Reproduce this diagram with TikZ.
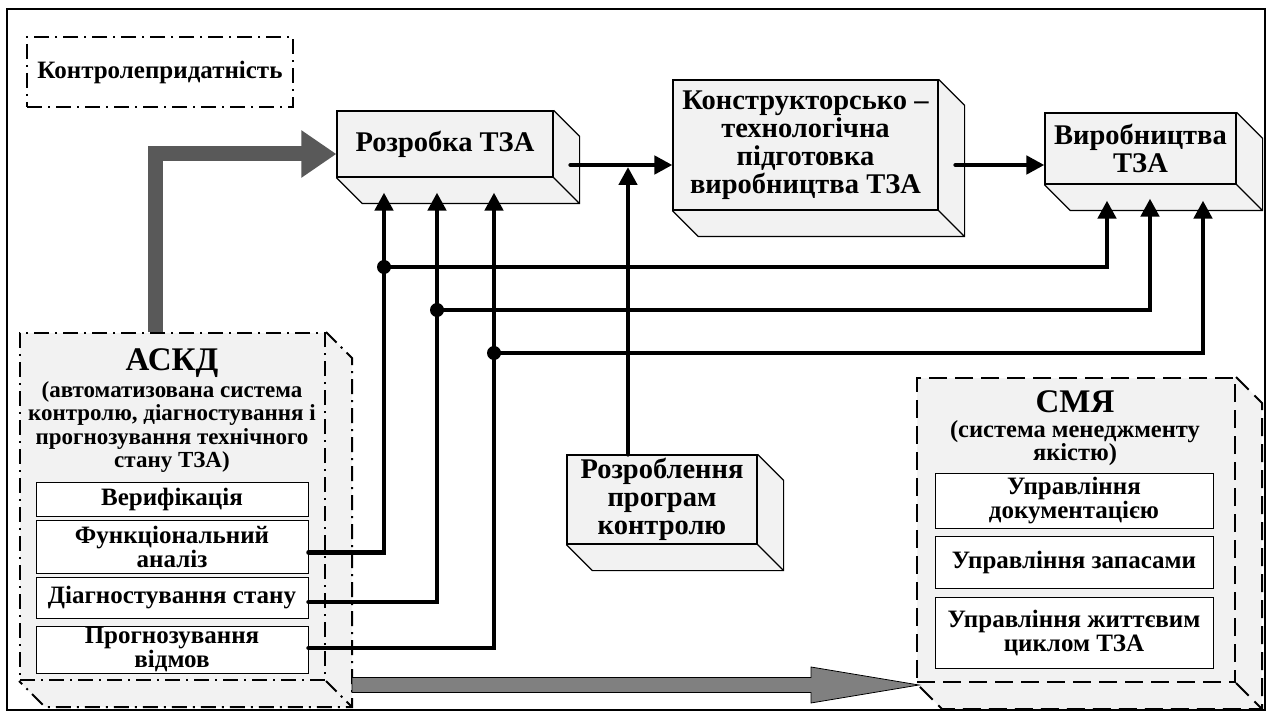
\documentclass[tikz,border=0pt]{standalone}
\usepackage{fontspec}
\setmainfont{Liberation Serif}
\usetikzlibrary{arrows.meta,calc,backgrounds}
\definecolor{boxfill}{HTML}{F2F2F2}
\definecolor{darkgrayarrow}{HTML}{595959}
\definecolor{midgrayarrow}{HTML}{808080}
\newcommand\depthfaces[2]{%
  \fill[boxfill] (#1.north east) -- ([shift={(26,26)}]#1.north east) -- ([shift={(26,26)}]#1.south east) -- ([shift={(26,26)}]#1.south west) -- (#1.south west) -- cycle;
  \draw[#2] (#1.north east) -- ([shift={(26,26)}]#1.north east) -- ([shift={(26,26)}]#1.south east) -- ([shift={(26,26)}]#1.south west) -- (#1.south west) (#1.south east) -- ([shift={(26,26)}]#1.south east);
}
\begin{document}
\begin{tikzpicture}[x=1pt,y=-1pt,
  solidface/.style={draw=black,line width=1.2pt},
  frontbox/.style={draw=black,line width=1.2pt,fill=boxfill,inner sep=0pt,align=center,font=\fontsize{28.5}{28}\selectfont\bfseries},
  sysbox/.style={fill=boxfill,inner sep=0pt},
  dashdotline/.style={draw=black,line width=2pt,dash pattern=on 15pt off 6pt on 2pt off 6pt},
  dashline/.style={draw=black,line width=2pt,dash pattern=on 18pt off 8pt},
  innerbox/.style={draw=black,line width=1pt,fill=white,inner sep=0pt,align=center,font=\fontsize{25}{24}\selectfont\bfseries},
  conn/.style={line width=4.5pt,line cap=round,-{Triangle[length=18pt,width=18pt]}},
  dotnode/.style={circle,fill=black,inner sep=0pt,minimum size=14pt},
  grayarrow/.style={draw=darkgrayarrow,line width=15pt,line join=miter,-{Triangle[length=35pt,width=45pt]}},
  bigarrow/.style={fill=midgrayarrow,draw=black,line width=0.8pt},
  titletext/.style={font=\fontsize{33}{35}\selectfont\bfseries},
  subtext/.style={align=center,font=\fontsize{23}{23.3}\selectfont\bfseries}
]
\useasboundingbox (0,0) rectangle (1269,711);
\draw[line width=1.8pt] (7,9) rectangle (1265,710);

% boxes
\node[fill=white,dashdotline,inner sep=0pt,minimum width=266pt,minimum height=70pt,font=\fontsize{25}{27}\selectfont\bfseries] (kp) at (160,72) {Контролепридатність};
\node[frontbox,minimum width=216pt,minimum height=66pt] (rozr) at (445,144) {Розробка ТЗА};
\node[frontbox,minimum width=265pt,minimum height=130pt] (ktp) at (805.5,145) {Конструкторсько –\\технологічна\\підготовка\\виробництва ТЗА};
\node[frontbox,minimum width=191pt,minimum height=71pt] (vyr) at (1140.5,148.5) {Виробництва\\ТЗА};
\node[frontbox,minimum width=190pt,minimum height=89pt] (rpk) at (662,499.5) {Розроблення\\програм\\контролю};

\node[sysbox,dashdotline,minimum width=305pt,minimum height=347pt] (askd) at (172.5,506.5) {};
\node[sysbox,dashline,minimum width=318pt,minimum height=304pt] (smya) at (1076,530) {};

\begin{scope}[on background layer]
  \fill[white] (0,0) rectangle (1269,711);
  \depthfaces{rozr}{solidface}
  \depthfaces{ktp}{solidface}
  \depthfaces{vyr}{solidface}
  \depthfaces{rpk}{solidface}
  \depthfaces{askd}{dashdotline}
  \depthfaces{smya}{dashline}
\end{scope}

\node[titletext] (askdt) at (172,363) {АСКД};
\node[subtext] (askds) at (172,427) {(автоматизована система\\контролю, діагностування і\\прогнозування технічного\\стану ТЗА)};
\node[innerbox,minimum width=272pt,minimum height=34pt] (ver) at (172,499) {Верифікація};
\node[innerbox,minimum width=272pt,minimum height=53pt] (fa) at (172,546.5) {Функціональний\\аналіз};
\node[innerbox,minimum width=272pt,minimum height=41pt] (diag) at (172,597.5) {Діагностування стану};
\node[innerbox,minimum width=272pt,minimum height=47pt] (prog) at (172,649.5) {Прогнозування\\відмов};

\node[titletext] (smyat) at (1075,402) {СМЯ};
\node[subtext,font=\fontsize{24.5}{23}\selectfont\bfseries] (smyas) at (1075,443.5) {(система менеджменту\\якістю)};
\node[innerbox,minimum width=278pt,minimum height=55pt] (ud) at (1074,500.5) {Управління\\документацією};
\node[innerbox,minimum width=278pt,minimum height=52pt] (uz) at (1074,562) {Управління запасами};
\node[innerbox,minimum width=278pt,minimum height=71pt] (uzh) at (1074,632.5) {Управління життєвим\\циклом ТЗА};

% connectors
\draw[grayarrow] ([xshift=-17.5pt]askd.north) |- ([yshift=-10pt]rozr.west);
\coordinate (g1) at (352,685);
\coordinate (g2) at (919,685);
\filldraw[bigarrow] ([yshift=7.5pt]g1) -- ([xshift=-108pt,yshift=7.5pt]g2) -- ([xshift=-108pt,yshift=18pt]g2) -- (g2) -- ([xshift=-108pt,yshift=-18pt]g2) -- ([xshift=-108pt,yshift=-7.5pt]g2) -- ([yshift=-7.5pt]g1) -- cycle;

\draw[conn] ([xshift=17pt,yshift=-21pt]rozr.east) -- ([yshift=-20pt]ktp.west);
\draw[conn] ([xshift=17pt,yshift=-20pt]ktp.east) -- ([yshift=-16.5pt]vyr.west);
\coordinate (j) at (628,167);
\draw[conn] ([xshift=-34pt]rpk.north) -- (j);

\node[dotnode] (d1) at (384,267) {};
\node[dotnode] (d2) at (437,310) {};
\node[dotnode] (d3) at (494,353) {};

\draw[conn] ([yshift=-6pt]fa.east) -| ([xshift=-61pt,yshift=-15pt]rozr.south);
\draw[conn] ([yshift=-4.5pt]diag.east) -| ([xshift=-8pt,yshift=-15pt]rozr.south);
\draw[conn] ([yshift=1.5pt]prog.east) -| ([xshift=49pt,yshift=-15pt]rozr.south);

\draw[conn] (d1.center) -| ([xshift=-33.5pt,yshift=-16pt]vyr.south);
\draw[conn] (d2.center) -| ([xshift=9.5pt,yshift=-14pt]vyr.south);
\draw[conn] (d3.center) -| ([xshift=62.5pt,yshift=-16pt]vyr.south);
\end{tikzpicture}
\end{document}
